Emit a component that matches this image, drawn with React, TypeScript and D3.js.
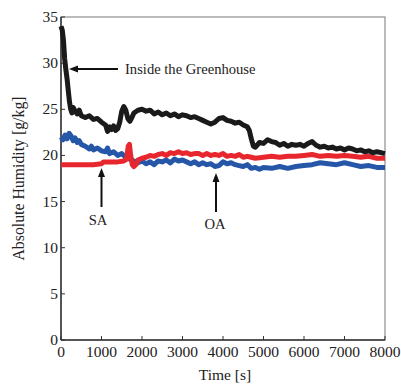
import React from 'react';
import * as d3 from 'd3';

// [time s, absolute humidity g/kg]
const inside: [number, number][] = [
  [0, 34.0], [30, 33.6], [60, 32.5], [90, 30.5], [120, 29.3], [150, 28.3], [180, 27.0], [210, 25.8],
  [240, 25.0], [270, 24.6], [300, 25.2], [350, 24.8], [400, 24.5], [450, 24.9], [500, 24.3], [600, 24.1],
  [700, 24.3], [800, 23.9], [900, 24.0], [1000, 23.6], [1100, 23.3], [1150, 22.6], [1200, 23.1], [1250, 22.8],
  [1300, 23.2], [1350, 22.7], [1400, 22.9], [1450, 23.6], [1500, 24.8], [1550, 25.3], [1600, 24.9], [1650, 24.0],
  [1700, 23.7], [1750, 24.1], [1800, 24.6], [1900, 24.9], [2000, 25.0], [2100, 24.8], [2200, 24.9], [2300, 24.5],
  [2400, 24.7], [2500, 24.4], [2600, 24.6], [2700, 24.3], [2800, 24.5], [2900, 24.2], [3000, 24.4], [3100, 24.3],
  [3200, 24.1], [3300, 24.2], [3400, 24.0], [3500, 23.8], [3600, 23.6], [3700, 23.4], [3800, 23.6], [3900, 24.0],
  [4000, 24.1], [4100, 23.8], [4200, 23.7], [4300, 23.5], [4400, 23.6], [4500, 23.3], [4600, 23.1], [4650, 22.7],
  [4700, 21.8], [4750, 21.0], [4800, 20.9], [4900, 21.4], [5000, 21.3], [5100, 21.7], [5200, 21.5], [5300, 21.4],
  [5400, 21.1], [5500, 21.3], [5600, 21.0], [5700, 21.2], [5800, 21.1], [5900, 21.2], [6000, 21.0], [6100, 21.3],
  [6200, 21.5], [6300, 21.1], [6400, 20.9], [6500, 21.0], [6600, 20.8], [6700, 20.9], [6800, 20.7], [6900, 20.8],
  [7000, 20.6], [7100, 20.8], [7200, 20.7], [7300, 20.5], [7400, 20.6], [7500, 20.4], [7600, 20.5], [7700, 20.3],
  [7800, 20.4], [7900, 20.3], [8000, 20.2],
];

const oa: [number, number][] = [
  [0, 22.0], [50, 21.7], [100, 22.2], [150, 21.8], [200, 22.4], [250, 22.1], [300, 21.6], [350, 21.9],
  [400, 21.4], [450, 21.6], [500, 21.2], [600, 21.0], [700, 20.7], [750, 21.0], [800, 20.6], [900, 20.8],
  [1000, 20.5], [1100, 20.4], [1150, 20.8], [1200, 20.2], [1300, 20.4], [1400, 20.0], [1500, 20.2], [1600, 19.8],
  [1700, 19.6], [1800, 19.4], [1900, 19.2], [2000, 19.4], [2100, 19.1], [2200, 19.3], [2300, 19.0], [2400, 19.4],
  [2500, 19.3], [2600, 19.5], [2700, 19.2], [2800, 19.6], [2900, 19.4], [3000, 19.5], [3100, 19.3], [3200, 19.1],
  [3300, 19.3], [3400, 19.0], [3500, 19.2], [3600, 19.0], [3700, 19.1], [3800, 18.8], [3900, 18.9], [4000, 19.3],
  [4100, 19.1], [4200, 19.2], [4300, 19.0], [4400, 18.9], [4500, 18.8], [4600, 19.0], [4700, 18.6], [4800, 18.7],
  [4900, 18.5], [5000, 18.7], [5200, 18.6], [5400, 18.8], [5600, 18.6], [5800, 18.8], [6000, 18.9], [6200, 19.0],
  [6400, 19.2], [6600, 19.1], [6800, 19.0], [7000, 19.2], [7200, 19.0], [7400, 18.8], [7600, 18.9], [7800, 18.7],
  [8000, 18.7],
];

const sa: [number, number][] = [
  [0, 19.0], [200, 19.0], [400, 19.0], [600, 19.0], [800, 19.0], [1000, 19.1], [1050, 19.3], [1200, 19.3],
  [1400, 19.3], [1550, 19.4], [1620, 19.6], [1660, 21.0], [1690, 21.2], [1720, 20.0], [1760, 19.0], [1800, 18.8],
  [1850, 19.0], [1900, 19.5], [2000, 19.7], [2100, 19.8], [2200, 20.0], [2300, 19.9], [2400, 20.1], [2500, 20.2],
  [2600, 20.0], [2700, 20.3], [2800, 20.2], [2900, 20.4], [3000, 20.2], [3100, 20.3], [3200, 20.1], [3300, 20.2],
  [3400, 20.2], [3500, 20.0], [3600, 20.2], [3700, 20.0], [3800, 20.1], [3900, 20.0], [4000, 20.2], [4100, 19.9],
  [4200, 20.0], [4300, 19.9], [4400, 20.1], [4500, 19.8], [4600, 19.9], [4700, 19.8], [4800, 19.7], [5000, 19.8],
  [5200, 19.9], [5400, 19.8], [5600, 19.9], [5800, 19.9], [6000, 20.0], [6200, 20.1], [6400, 19.9], [6600, 20.0],
  [6800, 19.9], [7000, 20.0], [7200, 19.9], [7400, 19.8], [7600, 19.9], [7800, 19.7], [8000, 19.7],
];

const xTicks = [0, 1000, 2000, 3000, 4000, 5000, 6000, 7000, 8000];
const yTicks = [0, 5, 10, 15, 20, 25, 30, 35];

const W = 401;
const H = 385;
const m = { left: 61, right: 16, top: 17, bottom: 45 };
const font = '"Liberation Serif", "Times New Roman", serif';

export default function App() {
  const x = d3.scaleLinear().domain([0, 8000]).range([m.left, W - m.right]);
  const y = d3.scaleLinear().domain([0, 35]).range([H - m.bottom, m.top]);
  const line = d3
    .line<[number, number]>()
    .x((d) => x(d[0]))
    .y((d) => y(d[1]));

  const x0 = x(0);
  const x1 = x(8000);
  const y0 = y(0);
  const y1 = y(35);

  return (
    <svg width={W} height={H} style={{ position: 'absolute', left: 0, top: 0 }} fontFamily={font}>
      <rect x={x0} y={y1} width={x1 - x0} height={y0 - y1} fill="none" stroke="#777" strokeWidth={1} />
      <line x1={x0} x2={x0} y1={y0} y2={y1} stroke="#333" strokeWidth={1.5} />
      <line x1={x0} x2={x1} y1={y0} y2={y0} stroke="#333" strokeWidth={1.5} />
      {yTicks.map((t) => (
        <g key={'y' + t}>
          <line x1={x0} x2={x0 + 4} y1={y(t)} y2={y(t)} stroke="#333" />
          <text x={x0 - 3} y={y(t) + 5} textAnchor="end" fontSize={15.5} fill="#222">
            {t}
          </text>
        </g>
      ))}
      {xTicks.map((t) => (
        <g key={'x' + t}>
          <line x1={x(t)} x2={x(t)} y1={y0} y2={y0 - 4} stroke="#333" />
          <text x={x(t)} y={y0 + 17} textAnchor="middle" fontSize={15.5} fill="#222">
            {t}
          </text>
        </g>
      ))}
      <path d={line(oa) || ''} fill="none" stroke="#2656a8" strokeWidth={5} strokeLinejoin="round" />
      <path d={line(sa) || ''} fill="none" stroke="#e8262e" strokeWidth={5} strokeLinejoin="round" />
      <path d={line(inside) || ''} fill="none" stroke="#1a1a1a" strokeWidth={5} strokeLinejoin="round" />

      {/* annotations */}
      <line x1={118} x2={76} y1={69} y2={69} stroke="#111" strokeWidth={2} />
      <path d="M69,69 L78,65.5 L78,72.5 Z" fill="#111" />
      <text x={125} y={74} fontSize={14.6} fill="#222">Inside the Greenhouse</text>

      <line x1={101.5} x2={101.5} y1={207} y2={175} stroke="#111" strokeWidth={2} />
      <path d="M101.5,168 L98,177 L105,177 Z" fill="#111" />
      <text x={98} y={225} textAnchor="middle" fontSize={14.6} fill="#222">SA</text>

      <line x1={216} x2={216} y1={212} y2={180} stroke="#111" strokeWidth={2} />
      <path d="M216,173 L212.5,182 L219.5,182 Z" fill="#111" />
      <text x={215} y={229} textAnchor="middle" fontSize={14.6} fill="#222">OA</text>

      <text x={225} y={380} textAnchor="middle" fontSize={15.5} fill="#222">Time [s]</text>
      <text
        transform={`translate(24,${(y0 + y1) / 2}) rotate(-90)`}
        textAnchor="middle"
        fontSize={15.8}
        fill="#222"
      >
        Absolute Humidity [g/kg]
      </text>
    </svg>
  );
}
